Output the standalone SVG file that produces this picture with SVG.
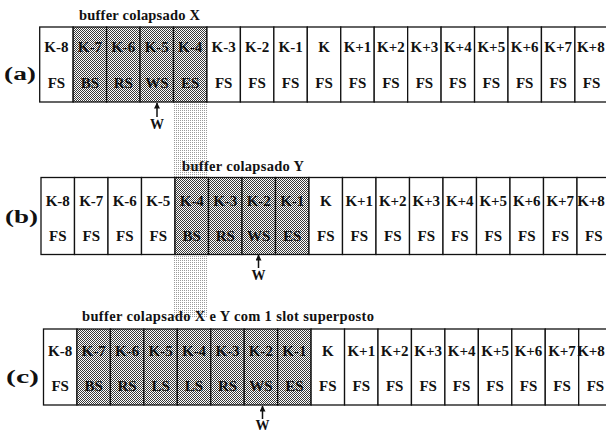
<svg xmlns="http://www.w3.org/2000/svg" width="606" height="433" viewBox="0 0 606 433">
<defs>
<pattern id="dk" width="2" height="2" patternUnits="userSpaceOnUse"><rect width="2" height="2" fill="#fff"/><rect width="1" height="1" fill="#3a3a3a"/><rect x="1" y="1" width="1" height="1" fill="#3a3a3a"/></pattern>
<pattern id="lt" width="2" height="2" patternUnits="userSpaceOnUse"><rect width="2" height="2" fill="#fff"/><rect width="1" height="1" fill="#9a9a9a"/></pattern>
<marker id="ah" viewBox="0 0 10 10" refX="9" refY="5" markerWidth="7" markerHeight="6" markerUnits="userSpaceOnUse" orient="auto"><path d="M0,0 L10,5 L0,10 Z" fill="#111"/></marker>
</defs>
<style>
text{font-family:"Liberation Serif","Times New Roman",serif;font-weight:bold;fill:#111}
.t{font-size:15px;text-anchor:middle}
.lab{font-size:18px}
.ttl{font-size:14.5px}
.w{font-size:14px;text-anchor:middle}
.c{fill:#fff;stroke:#111;stroke-width:1.3}
.s{fill:url(#dk);stroke:#111;stroke-width:1.3}
.cn{stroke:#111;stroke-width:1.5;fill:none}
</style>
<rect width="606" height="433" fill="#fff"/>
<rect id="band" x="174" y="102" width="33.5" height="216" fill="url(#lt)"/>

<g id="row-a">
<text class="lab" x="4" y="80" textLength="32" lengthAdjust="spacingAndGlyphs">(a)</text>
<text class="ttl" x="79" y="19.5" textLength="121" lengthAdjust="spacing">buffer colapsado X</text>
<g id="a0"><rect class="c" x="39.7" y="27" width="33.45" height="75"/><text class="t" x="56.4" y="52">K-8</text><text class="t" x="56.4" y="88">FS</text></g>
<g id="a1"><rect class="s" x="73.15" y="27" width="33.45" height="75"/><text class="t" x="89.9" y="52">K-7</text><text class="t" x="89.9" y="88">BS</text></g>
<g id="a2"><rect class="s" x="106.6" y="27" width="33.45" height="75"/><text class="t" x="123.3" y="52">K-6</text><text class="t" x="123.3" y="88">RS</text></g>
<g id="a3"><rect class="s" x="140.05" y="27" width="33.45" height="75"/><text class="t" x="156.8" y="52">K-5</text><text class="t" x="156.8" y="88">WS</text></g>
<g id="a4"><rect class="s" x="173.5" y="27" width="33.45" height="75"/><text class="t" x="190.2" y="52">K-4</text><text class="t" x="190.2" y="88">ES</text></g>
<g id="a5"><rect class="c" x="206.95" y="27" width="33.45" height="75"/><text class="t" x="223.7" y="52">K-3</text><text class="t" x="223.7" y="88">FS</text></g>
<g id="a6"><rect class="c" x="240.4" y="27" width="33.45" height="75"/><text class="t" x="257.1" y="52">K-2</text><text class="t" x="257.1" y="88">FS</text></g>
<g id="a7"><rect class="c" x="273.85" y="27" width="33.45" height="75"/><text class="t" x="290.6" y="52">K-1</text><text class="t" x="290.6" y="88">FS</text></g>
<g id="a8"><rect class="c" x="307.3" y="27" width="33.45" height="75"/><text class="t" x="324" y="52">K</text><text class="t" x="324" y="88">FS</text></g>
<g id="a9"><rect class="c" x="340.75" y="27" width="33.45" height="75"/><text class="t" x="357.5" y="52">K+1</text><text class="t" x="357.5" y="88">FS</text></g>
<g id="a10"><rect class="c" x="374.2" y="27" width="33.45" height="75"/><text class="t" x="390.9" y="52">K+2</text><text class="t" x="390.9" y="88">FS</text></g>
<g id="a11"><rect class="c" x="407.65" y="27" width="33.45" height="75"/><text class="t" x="424.4" y="52">K+3</text><text class="t" x="424.4" y="88">FS</text></g>
<g id="a12"><rect class="c" x="441.1" y="27" width="33.45" height="75"/><text class="t" x="457.8" y="52">K+4</text><text class="t" x="457.8" y="88">FS</text></g>
<g id="a13"><rect class="c" x="474.55" y="27" width="33.45" height="75"/><text class="t" x="491.3" y="52">K+5</text><text class="t" x="491.3" y="88">FS</text></g>
<g id="a14"><rect class="c" x="508" y="27" width="33.45" height="75"/><text class="t" x="524.7" y="52">K+6</text><text class="t" x="524.7" y="88">FS</text></g>
<g id="a15"><rect class="c" x="541.45" y="27" width="33.45" height="75"/><text class="t" x="558.2" y="52">K+7</text><text class="t" x="558.2" y="88">FS</text></g>
<g id="a16"><rect class="c" x="574.9" y="27" width="33.45" height="75"/><text class="t" x="590.8" y="52">K+8</text><text class="t" x="591.6" y="88">FS</text></g>
<text class="w" x="157" y="129">W</text>
</g>

<g id="row-b">
<text class="lab" x="5" y="223" textLength="33" lengthAdjust="spacingAndGlyphs">(b)</text>
<text class="ttl" x="182" y="171" textLength="122" lengthAdjust="spacing">buffer colapsado Y</text>
<g id="b0"><rect class="c" x="41" y="177.5" width="33.5" height="77"/><text class="t" x="57.75" y="206">K-8</text><text class="t" x="57.75" y="241">FS</text></g>
<g id="b1"><rect class="c" x="74.5" y="177.5" width="33.5" height="77"/><text class="t" x="91.25" y="206">K-7</text><text class="t" x="91.25" y="241">FS</text></g>
<g id="b2"><rect class="c" x="108" y="177.5" width="33.5" height="77"/><text class="t" x="124.75" y="206">K-6</text><text class="t" x="124.75" y="241">FS</text></g>
<g id="b3"><rect class="c" x="141.5" y="177.5" width="33.5" height="77"/><text class="t" x="158.25" y="206">K-5</text><text class="t" x="158.25" y="241">FS</text></g>
<g id="b4"><rect class="s" x="175" y="177.5" width="33.5" height="77"/><text class="t" x="191.75" y="206">K-4</text><text class="t" x="191.75" y="241">BS</text></g>
<g id="b5"><rect class="s" x="208.5" y="177.5" width="33.5" height="77"/><text class="t" x="225.25" y="206">K-3</text><text class="t" x="225.25" y="241">RS</text></g>
<g id="b6"><rect class="s" x="242" y="177.5" width="33.5" height="77"/><text class="t" x="258.75" y="206">K-2</text><text class="t" x="258.75" y="241">WS</text></g>
<g id="b7"><rect class="s" x="275.5" y="177.5" width="33.5" height="77"/><text class="t" x="292.25" y="206">K-1</text><text class="t" x="292.25" y="241">ES</text></g>
<g id="b8"><rect class="c" x="309" y="177.5" width="33.5" height="77"/><text class="t" x="325.75" y="206">K</text><text class="t" x="325.75" y="241">FS</text></g>
<g id="b9"><rect class="c" x="342.5" y="177.5" width="33.5" height="77"/><text class="t" x="359.25" y="206">K+1</text><text class="t" x="359.25" y="241">FS</text></g>
<g id="b10"><rect class="c" x="376" y="177.5" width="33.5" height="77"/><text class="t" x="392.75" y="206">K+2</text><text class="t" x="392.75" y="241">FS</text></g>
<g id="b11"><rect class="c" x="409.5" y="177.5" width="33.5" height="77"/><text class="t" x="426.25" y="206">K+3</text><text class="t" x="426.25" y="241">FS</text></g>
<g id="b12"><rect class="c" x="443" y="177.5" width="33.5" height="77"/><text class="t" x="459.75" y="206">K+4</text><text class="t" x="459.75" y="241">FS</text></g>
<g id="b13"><rect class="c" x="476.5" y="177.5" width="33.5" height="77"/><text class="t" x="493.25" y="206">K+5</text><text class="t" x="493.25" y="241">FS</text></g>
<g id="b14"><rect class="c" x="510" y="177.5" width="33.5" height="77"/><text class="t" x="526.75" y="206">K+6</text><text class="t" x="526.75" y="241">FS</text></g>
<g id="b15"><rect class="c" x="543.5" y="177.5" width="33.5" height="77"/><text class="t" x="560.25" y="206">K+7</text><text class="t" x="560.25" y="241">FS</text></g>
<g id="b16"><rect class="c" x="577" y="177.5" width="33.5" height="77"/><text class="t" x="591" y="206">K+8</text><text class="t" x="593.75" y="241">FS</text></g>
<text class="w" x="258.5" y="280">W</text>
</g>

<g id="row-c">
<text class="lab" x="6" y="383" textLength="33" lengthAdjust="spacingAndGlyphs">(c)</text>
<text class="ttl" x="82" y="321" textLength="292" lengthAdjust="spacing">buffer colapsado X e Y com 1 slot superposto</text>
<g id="c0"><rect class="c" x="43.5" y="329" width="33.45" height="76"/><text class="t" x="60.2" y="356">K-8</text><text class="t" x="60.2" y="391">FS</text></g>
<g id="c1"><rect class="s" x="76.95" y="329" width="33.45" height="76"/><text class="t" x="93.7" y="356">K-7</text><text class="t" x="93.7" y="391">BS</text></g>
<g id="c2"><rect class="s" x="110.4" y="329" width="33.45" height="76"/><text class="t" x="127.1" y="356">K-6</text><text class="t" x="127.1" y="391">RS</text></g>
<g id="c3"><rect class="s" x="143.85" y="329" width="33.45" height="76"/><text class="t" x="160.6" y="356">K-5</text><text class="t" x="160.6" y="391">LS</text></g>
<g id="c4"><rect class="s" x="177.3" y="329" width="33.45" height="76"/><text class="t" x="194" y="356">K-4</text><text class="t" x="194" y="391">LS</text></g>
<g id="c5"><rect class="s" x="210.75" y="329" width="33.45" height="76"/><text class="t" x="227.5" y="356">K-3</text><text class="t" x="227.5" y="391">RS</text></g>
<g id="c6"><rect class="s" x="244.2" y="329" width="33.45" height="76"/><text class="t" x="260.9" y="356">K-2</text><text class="t" x="260.9" y="391">WS</text></g>
<g id="c7"><rect class="s" x="277.65" y="329" width="33.45" height="76"/><text class="t" x="294.4" y="356">K-1</text><text class="t" x="294.4" y="391">ES</text></g>
<g id="c8"><rect class="c" x="311.1" y="329" width="33.45" height="76"/><text class="t" x="327.8" y="356">K</text><text class="t" x="327.8" y="391">FS</text></g>
<g id="c9"><rect class="c" x="344.55" y="329" width="33.45" height="76"/><text class="t" x="361.3" y="356">K+1</text><text class="t" x="361.3" y="391">FS</text></g>
<g id="c10"><rect class="c" x="378" y="329" width="33.45" height="76"/><text class="t" x="394.7" y="356">K+2</text><text class="t" x="394.7" y="391">FS</text></g>
<g id="c11"><rect class="c" x="411.45" y="329" width="33.45" height="76"/><text class="t" x="428.2" y="356">K+3</text><text class="t" x="428.2" y="391">FS</text></g>
<g id="c12"><rect class="c" x="444.9" y="329" width="33.45" height="76"/><text class="t" x="461.6" y="356">K+4</text><text class="t" x="461.6" y="391">FS</text></g>
<g id="c13"><rect class="c" x="478.35" y="329" width="33.45" height="76"/><text class="t" x="495.1" y="356">K+5</text><text class="t" x="495.1" y="391">FS</text></g>
<g id="c14"><rect class="c" x="511.8" y="329" width="33.45" height="76"/><text class="t" x="528.5" y="356">K+6</text><text class="t" x="528.5" y="391">FS</text></g>
<g id="c15"><rect class="c" x="545.25" y="329" width="33.45" height="76"/><text class="t" x="562" y="356">K+7</text><text class="t" x="562" y="391">FS</text></g>
<g id="c16"><rect class="c" x="578.7" y="329" width="33.45" height="76"/><text class="t" x="591" y="356">K+8</text><text class="t" x="595.4" y="391">FS</text></g>
<text class="w" x="262.5" y="430">W</text>
</g>

<g id="connectors">
<line class="cn" x1="157" y1="117" x2="157" y2="103" marker-end="url(#ah)"/>
<line class="cn" x1="258.5" y1="268" x2="258.5" y2="255" marker-end="url(#ah)"/>
<line class="cn" x1="262.5" y1="419" x2="262.5" y2="406" marker-end="url(#ah)"/>
</g>
</svg>
